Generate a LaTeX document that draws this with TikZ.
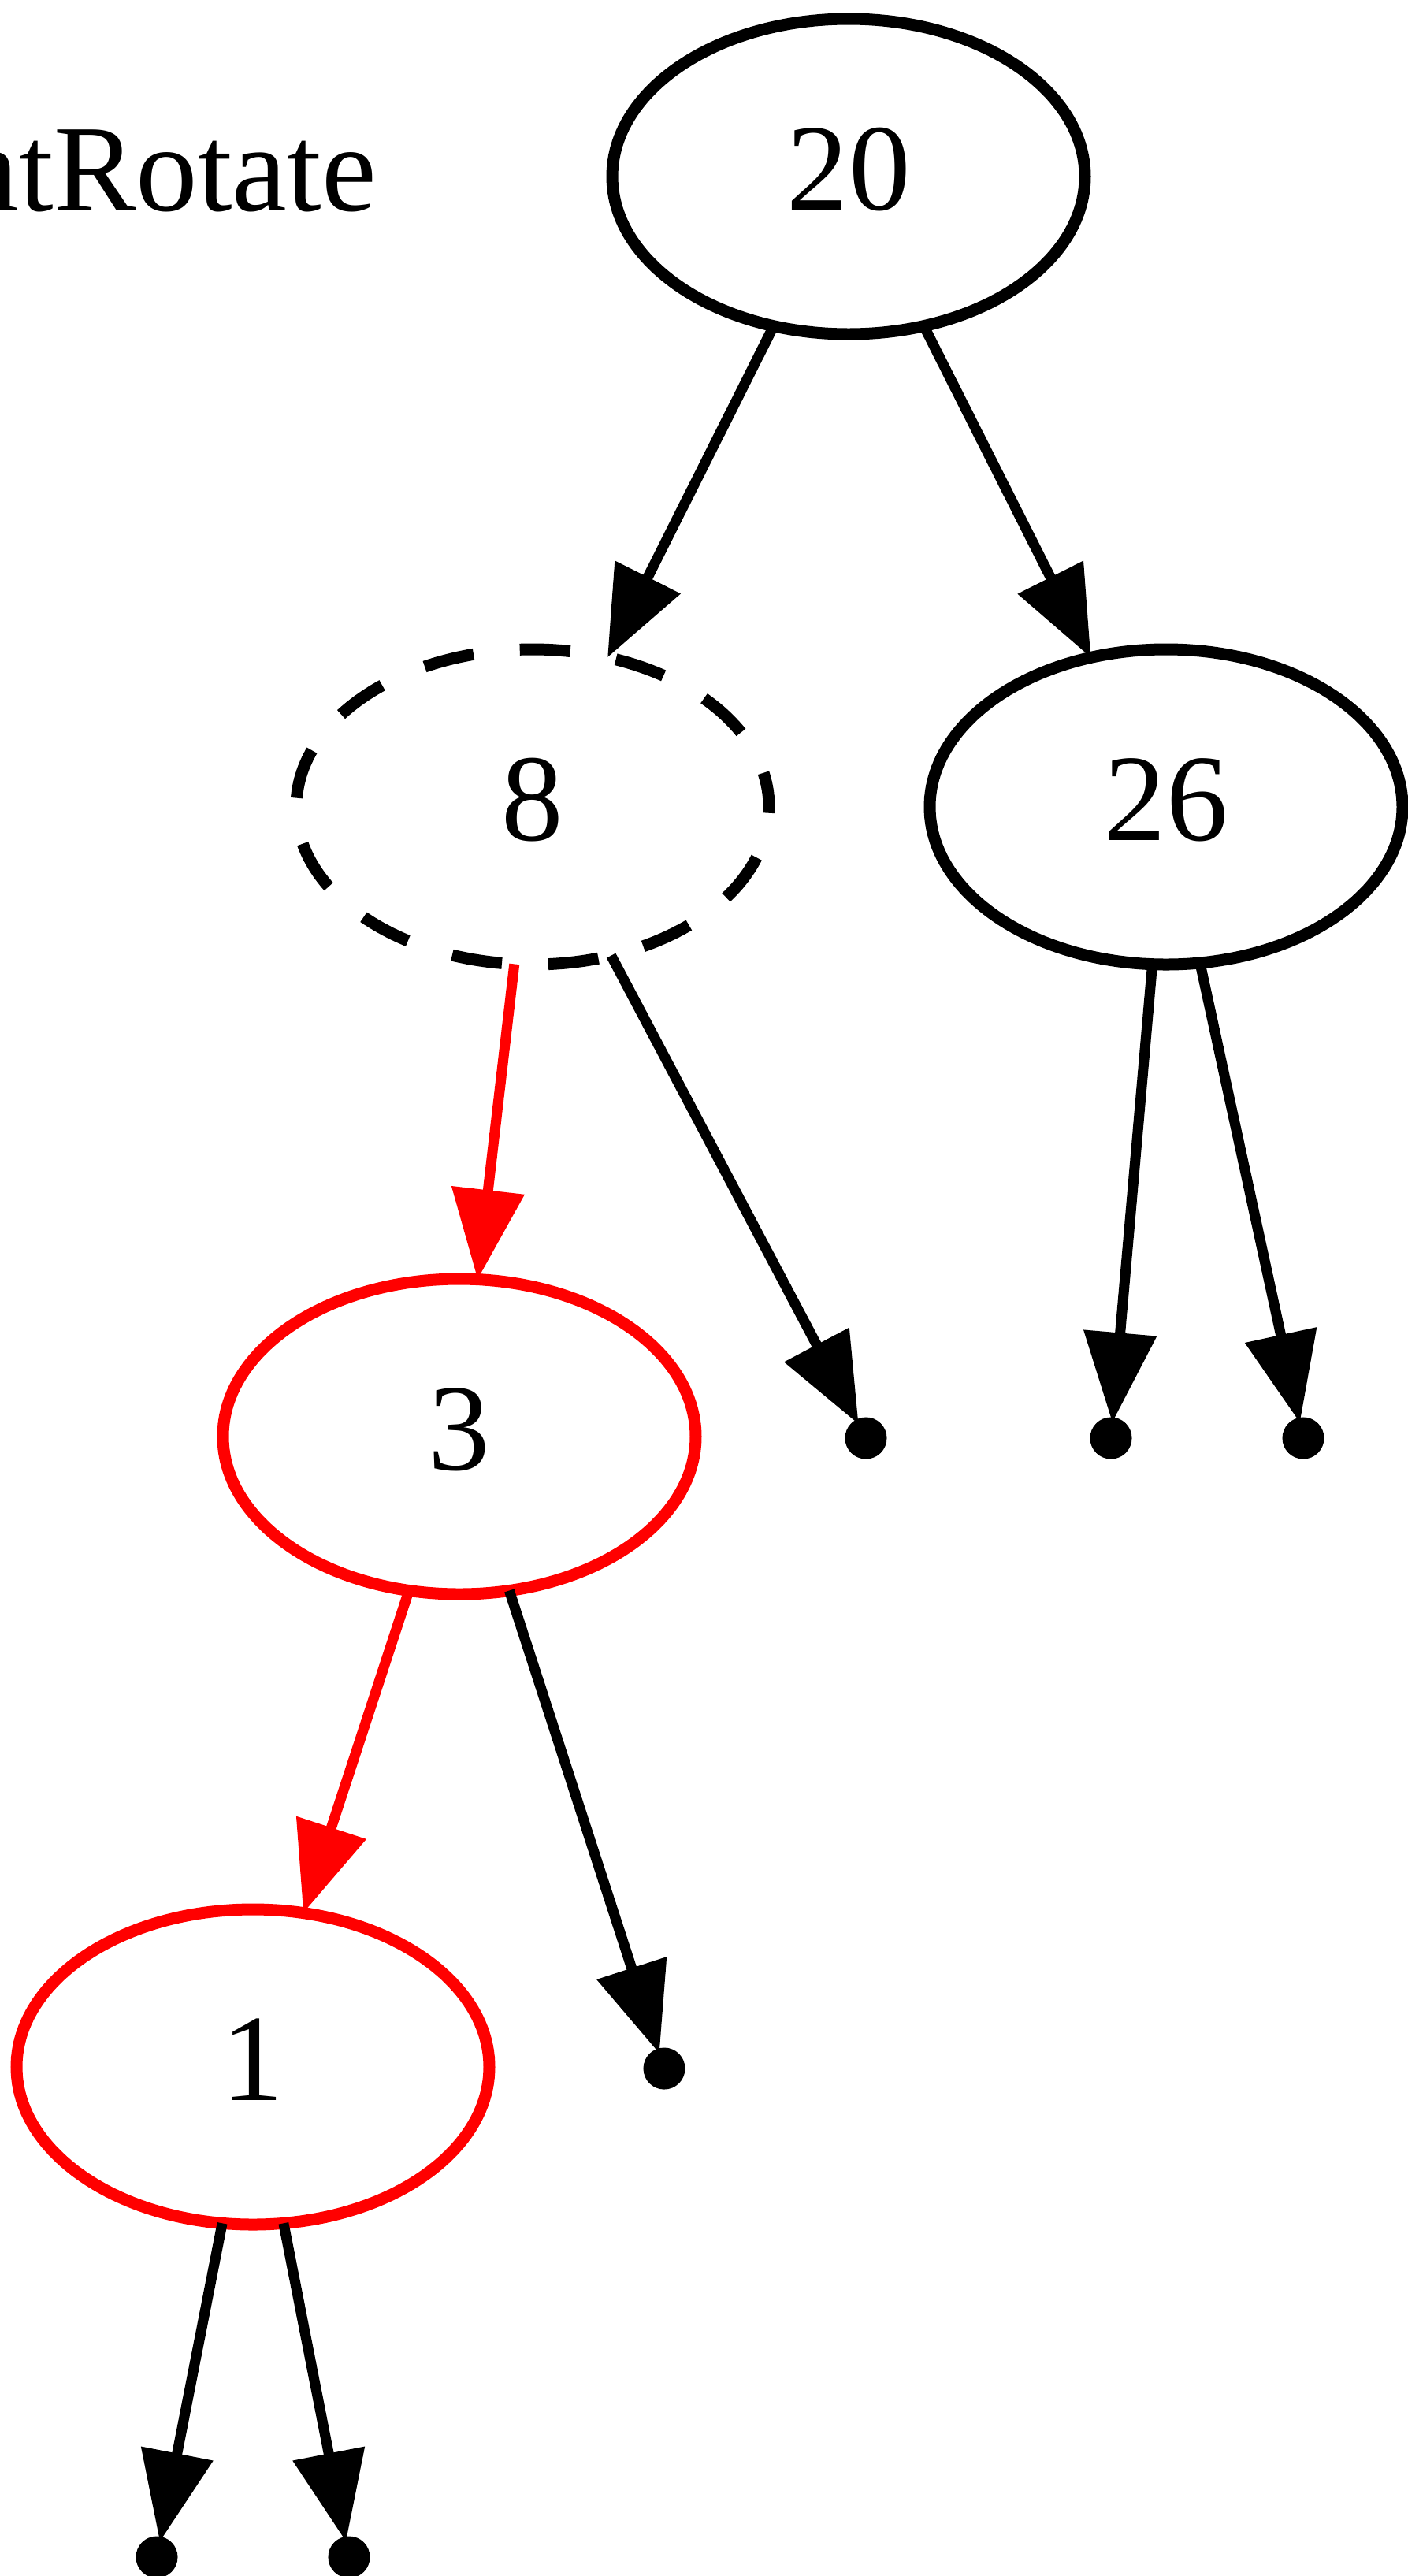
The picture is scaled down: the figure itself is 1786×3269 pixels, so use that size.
\documentclass[tikz,border=0pt]{standalone}
\usepackage{fontspec}
\setmainfont{Liberation Serif}
\usetikzlibrary{arrows.meta,shapes.geometric}
\begin{document}
\begin{tikzpicture}[x=1pt,y=-1pt,
  tnode/.style={ellipse,draw=black,line width=15pt,minimum width=600pt,minimum height=400pt,
    inner sep=0pt,outer sep=0pt,font=\fontsize{157pt}{160pt}\selectfont,text height=104pt,text depth=20pt},
  rednode/.style={tnode,draw=red},
  dashnode/.style={tnode,dash pattern=on 64pt off 59pt,dash phase=20pt},
  pnode/.style={circle,draw=black,fill=black,line width=13pt,minimum size=40pt,inner sep=0pt,outer sep=0pt},
  tedge/.style={line width=13pt,-{Triangle[length=114pt,width=90pt]}},
  redge/.style={tedge,draw=red,-{Triangle[length=114pt,width=90pt,fill=red]},color=red}]
\useasboundingbox (0,0) rectangle (1786,3269);
\fill[white] (0,0) rectangle (1786,3269);
\node[anchor=base east,inner sep=0pt,font=\fontsize{157pt}{160pt}\selectfont] (lbl) at (478,267) {ntRotate};
\node[tnode] (n20) at (1077,224) {20};
\node[dashnode] (n8) at (676,1024) {8};
\node[tnode] (n26) at (1480,1024) {26};
\node[rednode] (n3) at (583,1823) {3};
\node[rednode] (n1) at (321,2623) {1};
\node[pnode] (p1) at (1099,1825) {};
\node[pnode] (p2) at (1410,1825) {};
\node[pnode] (p3) at (1654,1825) {};
\node[pnode] (p4) at (843,2625) {};
\node[pnode] (p5) at (199,3245) {};
\node[pnode] (p6) at (443,3245) {};
\draw[tedge] (n20) -- (n8);
\draw[tedge] (n20) -- (n26);
\draw[redge] (n8) -- (n3);
\draw[tedge] (n8) -- (p1);
\draw[tedge] (n26) -- (p2);
\draw[tedge] (n26) -- (p3);
\draw[redge] (n3) -- (n1);
\draw[tedge] (n3) -- (p4);
\draw[tedge] (n1) -- (p5);
\draw[tedge] (n1) -- (p6);
\end{tikzpicture}
\end{document}
